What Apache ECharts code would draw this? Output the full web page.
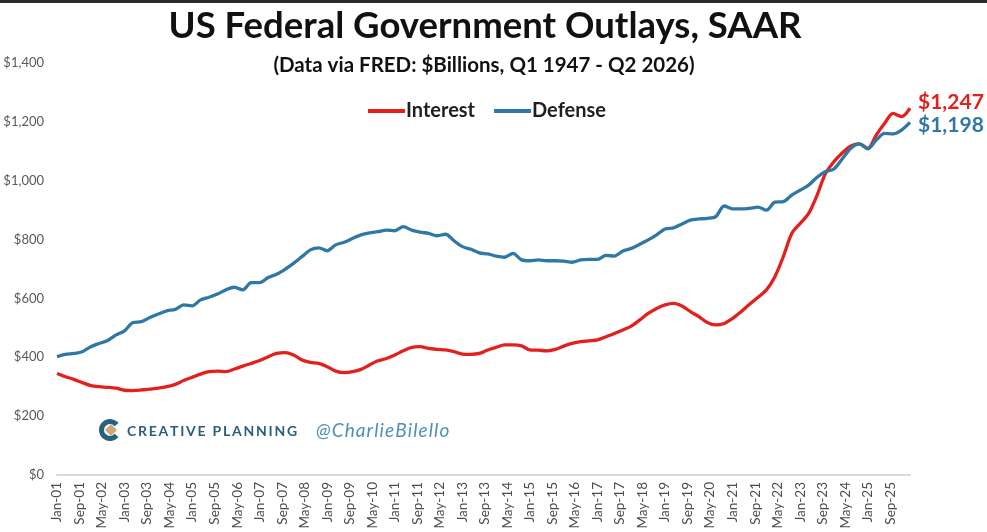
<!DOCTYPE html>
<html>
<head>
<meta charset="utf-8">
<script src="https://cdn.jsdelivr.net/npm/echarts@6/dist/echarts.min.js"></script>
<style>
html,body{margin:0;padding:0;background:#fff;}
#chart{width:987px;height:532px;}
</style>
</head>
<body>
<div id="chart"></div>
<script>
// Quarterly values, Q1 2001 .. Q2 2026 ($ billions, SAAR)
const interest = [
  345,334,325,314, 304,300,298,295, 288,287,289,292, 295,300,308,321,
  332,343,351,353, 351,360,370,379, 389,402,413,416, 408,391,383,379,
  368,353,348,351, 359,374,388,396, 408,422,434,436, 430,427,425,419,
  411,410,413,425, 434,442,442,439, 425,424,422,427, 438,447,453,456,
  459,470,481,493, 506,527,549,566, 578,583,574,555, 538,518,510,515,
  532,555,580,604, 629,674,742,821, 855,889,951,1025, 1065,1095,1118,1125,
  1110,1155,1195,1229, 1218,1247
];
const defense = [
  402,410,413,419, 436,447,457,476, 490,518,521,535, 547,558,563,578,
  575,595,604,615, 629,638,629,654, 654,671,682,699, 719,742,765,772,
  762,782,791,804, 816,823,827,832, 830,844,832,825, 821,813,818,796,
  776,767,755,751, 744,740,753,731, 728,731,728,728, 727,723,731,733,
  733,746,744,761, 770,784,799,816, 836,840,853,866, 870,872,878,914,
  904,904,906,910, 900,927,929,951, 968,985,1012,1031, 1040,1075,1110,1125,
  1108,1138,1161,1159, 1172,1198
];
const monthNames = ['Jan','Feb','Mar','Apr','May','Jun','Jul','Aug','Sep','Oct','Nov','Dec'];
const firstYear = 2001, lastYear = 2026, lastMonth = 3; // Apr-26
const categories = [];
for (let y = firstYear; y <= lastYear; y++) {
  for (let m = 0; m < 12; m++) {
    if (y === lastYear && m > lastMonth) break;
    categories.push(monthNames[m] + '-' + String(y).slice(2));
  }
}
const seriesNames = ['Interest', 'Defense'];
const titleText = 'US Federal Government Outlays, SAAR';
const subtitleText = '(Data via FRED: $Billions, Q1 1947 - Q2 2026)';

const RED = '#e3201c';
const BLUE = '#2f78a6';
const FONT = 'Lato, "Open Sans", sans-serif';

const toPairs = arr => arr.map((v, i) => [categories[3 * i], v]);
const money = v => '$' + Number(v).toLocaleString('en-US');
const spaced = (s, sp) => s.split('').join(sp);

const chart = echarts.init(document.getElementById('chart'));
chart.setOption({
  backgroundColor: '#ffffff',
  animation: false,
  grid: { left: 57, right: 77, top: 63, bottom: 57 },
  legend: {
    data: seriesNames,
    left: 363, top: 96,
    icon: 'rect', itemWidth: 37, itemHeight: 4, itemGap: 19,
    textStyle: { fontSize: 20, fontWeight: 'bold', color: '#1f1f1f', fontFamily: FONT, padding: [0, 0, 0, -4] }
  },
  xAxis: {
    type: 'category',
    data: categories,
    boundaryGap: false,
    axisLine: { lineStyle: { color: '#d9d9d9', width: 2 } },
    axisTick: { show: false },
    axisLabel: {
      interval: 7, rotate: 90, fontSize: 13.5, color: '#4d4d4d',
      fontFamily: FONT, margin: 7
    },
    splitLine: { show: false }
  },
  yAxis: {
    type: 'value',
    min: 0, max: 1400, interval: 200,
    axisLine: { show: false },
    axisTick: { show: false },
    splitLine: { show: false },
    axisLabel: {
      formatter: money, fontSize: 13, color: '#595959',
      fontFamily: FONT, margin: 13
    }
  },
  series: [
    {
      name: seriesNames[0], type: 'line', data: toPairs(interest),
      showSymbol: false, smooth: 0.3, color: RED,
      lineStyle: { width: 3.3, color: RED },
      endLabel: {
        show: true, formatter: p => money(p.value[1]),
        color: RED, fontSize: 21, fontWeight: 'bold', fontFamily: FONT,
        offset: [0, -6]
      }
    },
    {
      name: seriesNames[1], type: 'line', data: toPairs(defense),
      showSymbol: false, smooth: 0.3, color: BLUE,
      lineStyle: { width: 3.3, color: BLUE },
      endLabel: {
        show: true, formatter: p => money(p.value[1]),
        color: BLUE, fontSize: 21, fontWeight: 'bold', fontFamily: FONT,
        offset: [0, 3]
      }
    }
  ],
  graphic: [
    { type: 'rect', shape: { x: 0, y: 0, width: 987, height: 3 }, style: { fill: '#2a2a2a' }, silent: true },
    { type: 'text', x: 485, y: 26, style: { text: titleText, fill: '#111', font: 'bold 36.5px ' + FONT, textAlign: 'center', textVerticalAlign: 'middle' } },
    { type: 'text', x: 484, y: 65, style: { text: subtitleText, fill: '#111', font: 'bold 20.5px ' + FONT, textAlign: 'center', textVerticalAlign: 'middle' } },
    { type: 'arc', shape: { cx: 110, cy: 430, r: 8.5, startAngle: Math.PI * 0.22, endAngle: Math.PI * 1.78 }, style: { stroke: '#2a607c', lineWidth: 5, fill: null } },
    { type: 'polygon', shape: { points: [[111, 424], [117, 430], [111, 436], [105, 430]] }, style: { fill: '#c9a97c' } },
    { type: 'text', x: 127, y: 431, style: { text: spaced('CREATIVE', '\u2009') + '\u2002' + spaced('PLANNING', '\u2009'), fill: '#2a607c', font: 'bold 14px ' + FONT, textVerticalAlign: 'middle' } },
    { type: 'text', x: 316, y: 431, style: { text: spaced('@CharlieBilello', '\u200a'), fill: '#4f8fb8', font: 'italic 19px ' + FONT, textVerticalAlign: 'middle' } }
  ]
});
</script>
</body>
</html>
